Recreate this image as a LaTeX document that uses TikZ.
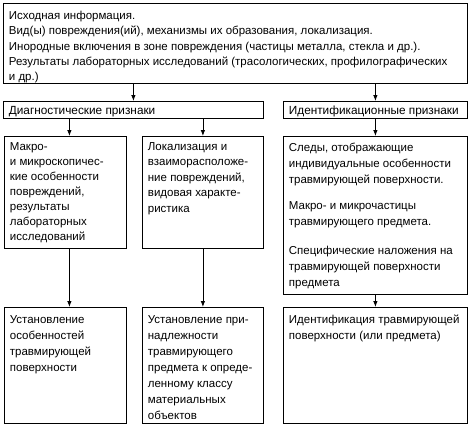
\documentclass[tikz,border=0pt]{standalone}
\usepackage{fontspec}
\setmainfont{Liberation Sans}
\usepackage{tikz}
\usetikzlibrary{arrows.meta,positioning}
\newcommand{\celltext}[4][13pt]{\parbox[t][#3][t]{\dimexpr#2-11pt\relax}{\raggedright\rule{0pt}{#1}#4}}

\begin{document}
\begin{tikzpicture}[
  x=1pt,y=1pt,
  >=Latex,
  cell/.style={draw=black,line width=0.8pt,inner xsep=5.5pt,inner ysep=0pt,anchor=north west,
               font=\fontsize{11.5}{15.5}\selectfont},
  head/.style={cell,font=\fontsize{11.8}{15.5}\selectfont},
  flow/.style={line width=0.8pt,-{Latex[length=6pt,width=4.5pt]}}
]
  \useasboundingbox (0,0) rectangle (474,-426);

  % source data
  \node[cell,font=\fontsize{11.5}{15.3}\selectfont] (src) at (3,-3) {\celltext[16pt]{464pt}{80pt}{Исходная информация.\\
    Вид(ы) повреждения(ий), механизмы их образования, локализация.\\
    Инородные~включения~в~зоне~повреждения~(частицы~металла,~стекла~и~др.).\\
    Результаты~лабораторных~исследований~(трасологических,~профилографических\\
    и др.)}};

  % two groups of signs
  \node[head] (diag) at (3,-101) {\celltext{260pt}{16.5pt}{Диагностические признаки}};
  \node[head] (ident) at (283,-101) {\celltext{184pt}{16.5pt}{Идентификационные~признаки}};

  % what is examined
  \node[cell,font=\fontsize{11.5}{15}\selectfont] (macro) at (4,-136) {\celltext[14pt]{122pt}{112pt}{Макро-\\и~микроскопичес-\\кие~особенности\\повреждений,\\результаты\\лабораторных\\исследований}};
  \node[cell] (local) at (142,-136) {\celltext[14pt]{121pt}{112pt}{Локализация~и\\взаиморасположе-\\ние~повреждений,\\видовая~характе-\\ристика}};
  \node[cell,font=\fontsize{11.5}{16}\selectfont] (traces) at (283,-136) {\celltext[15.5pt]{184pt}{158pt}{Следы,~отображающие\\индивидуальные~особенности\\травмирующей~поверхности.\\[10pt]
    Макро-~и~микрочастицы\\травмирующего~предмета.\\[13pt]
    Специфические~наложения~на\\травмирующей~поверхности\\предмета}};

  % results
  \node[cell,font=\fontsize{11.5}{16}\selectfont] (feat) at (4,-307) {\celltext[16pt]{122pt}{116pt}{Установление\\особенностей\\травмирующей\\поверхности}};
  \node[cell,font=\fontsize{11.5}{16}\selectfont] (class) at (142,-307) {\celltext[16pt]{121pt}{116pt}{Установление~при-\\надлежности\\травмирующего\\предмета~к~опреде-\\ленному~классу\\материальных\\объектов}};
  \node[cell,font=\fontsize{11.5}{16}\selectfont] (idres) at (283,-307) {\celltext[16pt]{184pt}{116pt}{Идентификация~травмирующей\\поверхности~(или~предмета)}};

  \draw[flow] (diag.north |- src.south) -- (diag.north);
  \draw[flow] (ident.north |- src.south) -- (ident.north);
  \draw[flow] ([xshift=4pt]macro.north |- diag.south) -- ([xshift=4pt]macro.north);
  \draw[flow] (local.north |- diag.south) -- (local.north);
  \draw[flow] (ident.south) -- (traces.north);
  \draw[flow] ([xshift=4pt]macro.south) -- ([xshift=4pt]feat.north);
  \draw[flow] (local.south) -- (class.north);
  \draw[flow] (traces.south) -- (idres.north);
\end{tikzpicture}
\end{document}
